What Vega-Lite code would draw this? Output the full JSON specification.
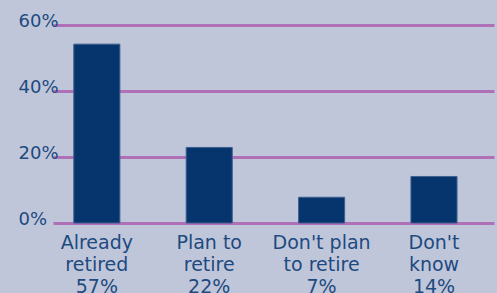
{
  "$schema": "https://vega.github.io/schema/vega-lite/v6.json",
  "width": 441,
  "height": 198,
  "autosize": {"type": "none"},
  "padding": {"left": 53, "top": 25, "right": 3, "bottom": 70},
  "background": "#c0c6da",
  "config": {"view": {"stroke": null}},
  "data": {"values": [
    {"category": "Already|retired|57%", "value": 54.2},
    {"category": "Plan to|retire|22%", "value": 22.9},
    {"category": "Don't plan|to retire|7%", "value": 7.8},
    {"category": "Don't|know|14%", "value": 14.1}
  ]},
  "mark": {"type": "bar", "color": "#06356e", "stroke": "#3d5f8f", "strokeWidth": 1},
  "encoding": {
    "x": {
      "field": "category", "type": "nominal", "sort": null,
      "scale": {"paddingInner": 0.59, "paddingOuter": 0.257, "align": 0.36},
      "axis": {
        "title": null, "labelAngle": 0, "domain": false, "ticks": false,
        "labelExpr": "split(datum.label, '|')",
        "labelFont": "DejaVu Sans", "labelFontSize": 19, "labelColor": "#1d4a80",
        "labelPadding": 10, "labelLineHeight": 22
      }
    },
    "y": {
      "field": "value", "type": "quantitative",
      "scale": {"domain": [0, 60]},
      "axis": {
        "title": null, "values": [0, 20, 40, 60],
        "labelExpr": "datum.value + '%'",
        "grid": true, "gridColor": "#b070b8", "gridWidth": 3, "gridOpacity": 1,
        "domain": false, "ticks": false,
        "labelAlign": "left", "labelPadding": 35, "labelBaseline": "middle", "labelOffset": -4,
        "labelFont": "DejaVu Sans", "labelFontSize": 18, "labelColor": "#1d4a80"
      }
    }
  }
}
